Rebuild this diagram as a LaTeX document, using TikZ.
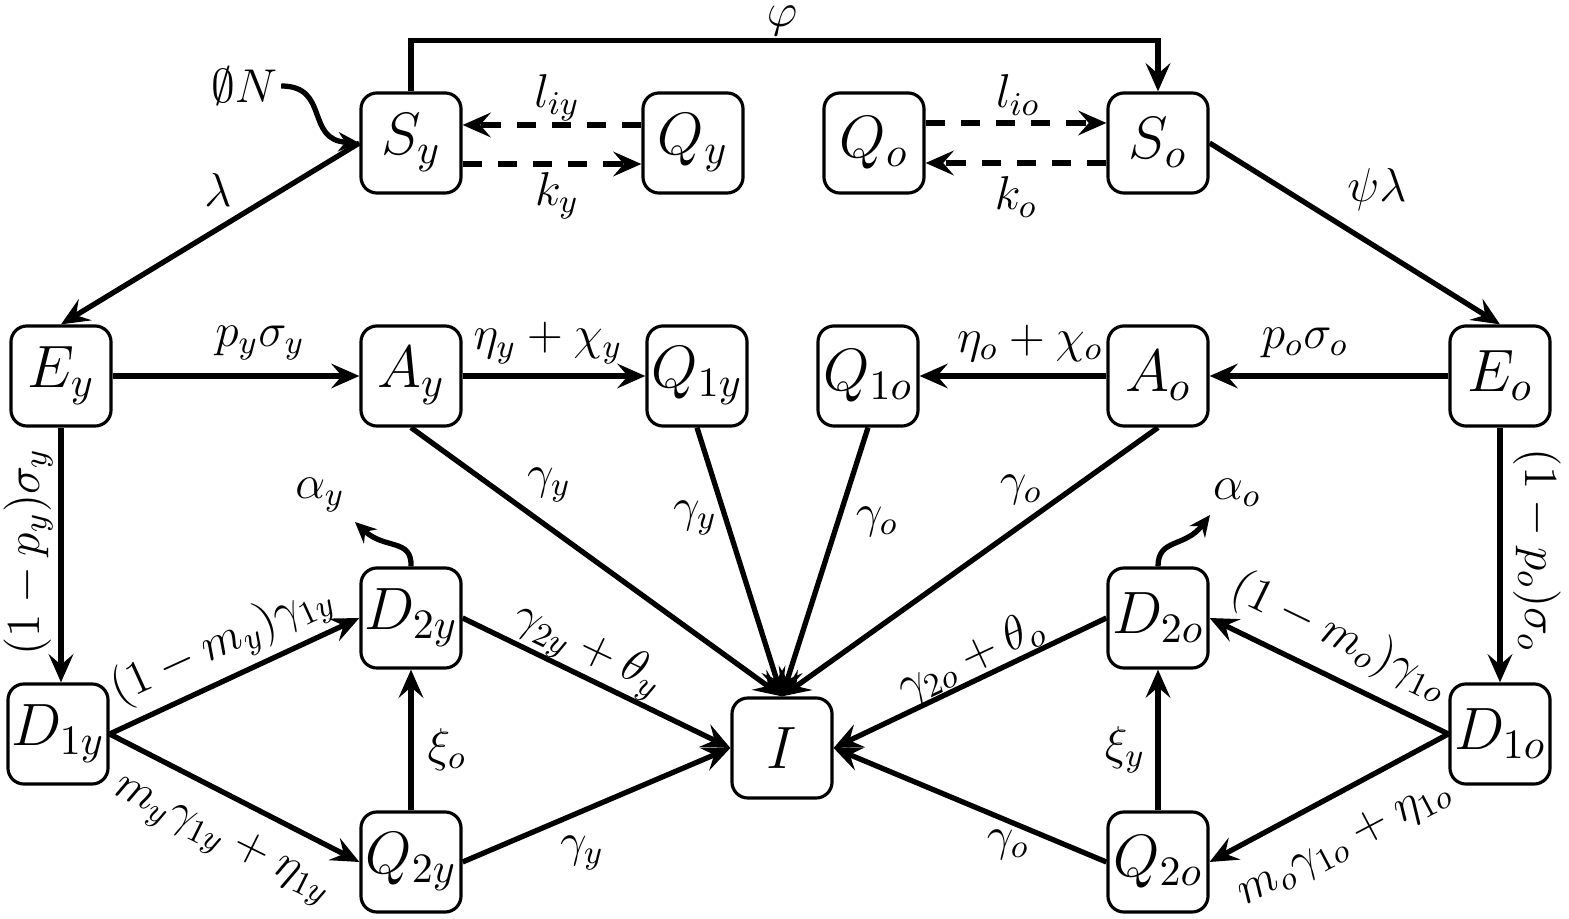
\RequirePackage{fix-cm}
\documentclass[tikz,border=0pt]{standalone}
\usetikzlibrary{arrows.meta}
\begin{document}
\begin{tikzpicture}[x=0.01cm,y=-0.01cm,
  box/.style={draw, line width=0.9pt, rounded corners=0.16cm, minimum width=1cm, minimum height=1cm, inner sep=0pt, font=\fontsize{17}{20}\selectfont},
  flow/.style={line width=1.5pt, -{Stealth[length=8pt,width=7pt,inset=3pt]}},
  dflow/.style={flow, dash pattern=on 5.5pt off 4.5pt},
  wflow/.style={line width=1.5pt, -{Stealth[length=6pt,width=5.5pt,inset=2pt]}},
  lab/.style={font=\fontsize{13.5}{16}\selectfont, inner sep=1pt}
]
\useasboundingbox (0,0) rectangle (1569,919);
% nodes
\node[box] (Sy) at (411,143) {$S_y$};
\node[box] (Qy) at (693,143) {$Q_y$};
\node[box] (Qo) at (874,143) {$Q_o$};
\node[box] (So) at (1158,143) {$S_o$};
\node[box] (Ey) at (61,376) {$E_y$};
\node[box] (Ay) at (411,376) {$A_y$};
\node[box] (Q1y) at (697,376) {$Q_{1y}$};
\node[box] (Q1o) at (868,376) {$Q_{1o}$};
\node[box] (Ao) at (1158,376) {$A_o$};
\node[box] (Eo) at (1500,376) {$E_o$};
\node[box] (D2y) at (411,618) {$D_{2y}$};
\node[box] (D2o) at (1158,618) {$D_{2o}$};
\node[box] (D1y) at (58,734) {$D_{1y}$};
\node[box] (I) at (782,748) {$I$};
\node[box] (D1o) at (1500,734) {$D_{1o}$};
\node[box] (Q2y) at (411,862) {$Q_{2y}$};
\node[box] (Q2o) at (1158,862) {$Q_{2o}$};
% top
\draw[flow] (Sy.north) -- ++(0,-51) -| (So.north);
\node[lab] (phi) at (782,21) {$\varphi$};
\node[lab] (ON) at (244,86) {$\emptyset N$};
\draw[wflow] (ON.east) .. controls (330,86) and (305,140) .. (Sy.west);
\draw[dflow] ([yshift=0.18cm]Qy.west) -- ([yshift=0.18cm]Sy.east);
\draw[dflow] ([yshift=-0.21cm]Sy.east) -- ([yshift=-0.21cm]Qy.west);
\draw[dflow] ([yshift=0.20cm]Qo.east) -- ([yshift=0.20cm]So.west);
\draw[dflow] ([yshift=-0.20cm]So.west) -- ([yshift=-0.20cm]Qo.east);
\node[lab] (liy) at (557,98) {$l_{iy}$};
\node[lab] (ky) at (557,196) {$k_y$};
\node[lab] (lio) at (1018,95) {$l_{io}$};
\node[lab] (ko) at (1016,197) {$k_o$};
\draw[flow] (Sy.west) -- (Ey.north);
\node[lab] (lam) at (218,190) {$\lambda$};
\draw[flow] (So.east) -- (Eo.north);
\node[lab] (psilam) at (1377,190) {$\psi\lambda$};
% middle row
\draw[flow] (Ey.east) -- (Ay.west);
\node[lab] (lEA) at (260,343) {$p_y\sigma_y$};
\draw[flow] (Ay.east) -- (Q1y.west);
\node[lab] (lAQy) at (548,343) {$\eta_y+\chi_y$};
\draw[flow] (Ao.west) -- (Q1o.east);
\node[lab] (lAQo) at (1030,343) {$\eta_o+\chi_o$};
\draw[flow] (Eo.west) -- (Ao.east);
\node[lab] (lEAo) at (1305,343) {$p_o\sigma_o$};
% verticals
\draw[flow] (Ey.south) -- (Ey.south |- D1y.north);
\node[lab, rotate=90] (lED) at (28,552) {$(1-p_y)\sigma_y$};
\draw[flow] (Eo.south) -- (D1o.north);
\node[lab, rotate=-90] (lEDo) at (1537,550) {$(1-p_o)\sigma_o$};
% to I from above
\draw[flow] (Ay.south) -- (I.north);
\node[lab] (gAy) at (549,485) {$\gamma_y$};
\draw[flow] (Q1y.south) -- (I.north);
\node[lab] (gQy) at (695,518) {$\gamma_y$};
\draw[flow] (Q1o.south) -- (I.north);
\node[lab] (gQo) at (877,522) {$\gamma_o$};
\draw[flow] (Ao.south) -- (I.north);
\node[lab] (gAo) at (1021,490) {$\gamma_o$};
% left bottom
\draw[flow] (D1y.east) -- (D2y.west);
\node[lab, rotate=24.6] (lDD) at (222,644) {$(1-m_y)\gamma_{1y}$};
\draw[flow] (D1y.east) -- (Q2y.west);
\node[lab, rotate=-26.4] (lDQ) at (222,840) {$m_y\gamma_{1y}+\eta_{1y}$};
\draw[flow] (D2y.east) -- (I.west);
\node[lab, rotate=-25.5] (lDI) at (588,650) {$\gamma_{2y}+\theta_y$};
\draw[flow] (Q2y.east) -- (I.west);
\node[lab] (lQI) at (582,853) {$\gamma_y$};
\draw[flow] (Q2y.north) -- (D2y.south);
\node[lab] (xio) at (447,750) {$\xi_o$};
\coordinate (ay) at (355,522);
\draw[wflow] (D2y.north) .. controls (412,538) and (385,550) .. (ay);
\node[lab] (alphay) at (320,495) {$\alpha_y$};
% right bottom
\draw[flow] (D2o.west) -- (I.east);
\node[lab, rotate=25] (lDIo) at (971,658) {$\gamma_{2o}+\theta_o$};
\draw[flow] (Q2o.west) -- (I.east);
\node[lab] (lQIo) at (1008,845) {$\gamma_o$};
\draw[flow] (Q2o.north) -- (D2o.south);
\node[lab] (xiy) at (1125,750) {$\xi_y$};
\draw[flow] (D1o.west) -- (D2o.east);
\node[lab, rotate=-25.9] (lDDo) at (1340,637) {$(1-m_o)\gamma_{1o}$};
\draw[flow] (D1o.west) -- (Q2o.east);
\node[lab, rotate=27.8] (lDQo) at (1345,843) {$m_o\gamma_{1o}+\eta_{1o}$};
\coordinate (ao) at (1210,515);
\draw[wflow] (D2o.north) .. controls (1158,538) and (1185,548) .. (ao);
\node[lab] (alphao) at (1237,493) {$\alpha_o$};
\end{tikzpicture}
\end{document}
